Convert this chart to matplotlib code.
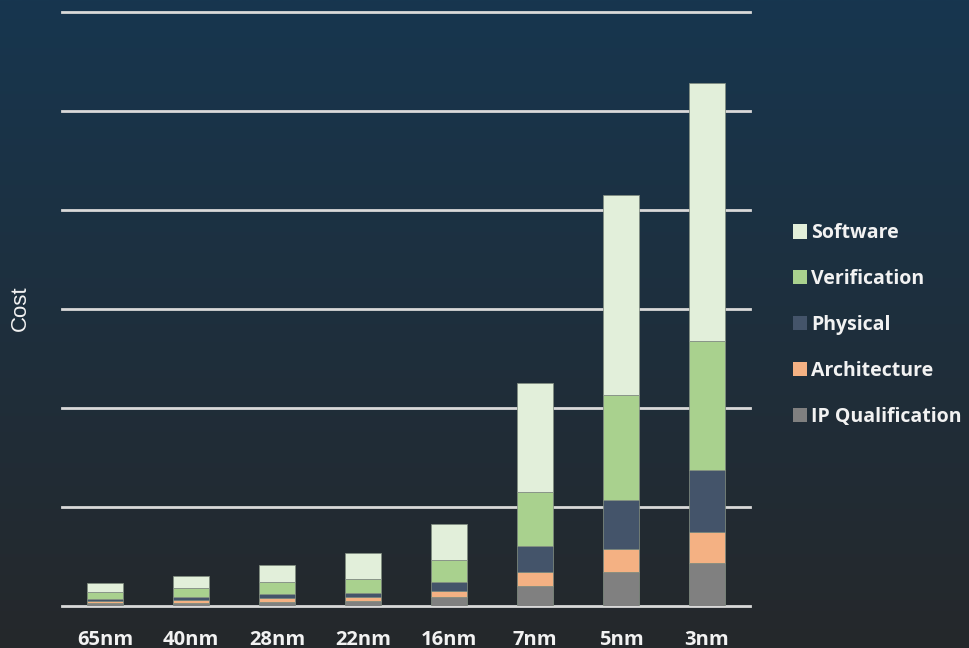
import numpy as np
import matplotlib.pyplot as plt
from matplotlib.patches import Patch

# data (one grid step = 100)
nodes = ["65nm", "40nm", "28nm", "22nm", "16nm", "7nm", "5nm", "3nm"]
ip_qual = [3.5, 3.5, 4.5, 5.5, 8.6, 20.5, 34.0, 43.4]
architecture = [1.7, 2.3, 3.3, 3.3, 6.4, 14.1, 23.8, 31.3]
physical = [2.0, 3.0, 4.0, 4.7, 9.1, 25.9, 49.1, 62.3]
verification = [7.4, 9.5, 12.8, 13.8, 22.6, 54.2, 105.7, 130.2]
software = [8.8, 12.1, 17.2, 26.2, 35.9, 110.6, 201.8, 261.0]

series = [
    ("IP Qualification", ip_qual, "#808080"),
    ("Architecture", architecture, "#F4B183"),
    ("Physical", physical, "#44546A"),
    ("Verification", verification, "#A9D18E"),
    ("Software", software, "#E2EFDA"),
]

fig = plt.figure(figsize=(9.69, 6.48), dpi=100)

# gradient background
bg = fig.add_axes([0, 0, 1, 1], zorder=0)
top = np.array([23, 54, 79]) / 255
bot = np.array([37, 40, 43]) / 255
t = np.linspace(0, 1, 256)[:, None]
grad = (top[None, :] * (1 - t) + bot[None, :] * t)[:, None, :]
bg.imshow(grad, aspect="auto", extent=[0, 1, 0, 1])
bg.axis("off")

ax = fig.add_axes([62 / 969, 1 - 606 / 648, 688 / 969, 594.5 / 648], zorder=1)
ax.patch.set_alpha(0)

x = np.arange(len(nodes))
bottom = np.zeros(len(nodes))
for name, vals, col in series:
    ax.bar(x, vals, 0.407, bottom=bottom, color=col, edgecolor=(0.5, 0.55, 0.5, 0.8),
           linewidth=0.7, zorder=3)
    bottom += np.array(vals)

ax.set_xlim(-0.5, 7.5)
ax.set_ylim(0, 600)
for yv in range(0, 700, 100):
    ax.axhline(yv, color="#D9D9D9", lw=2, zorder=1, clip_on=False)

for s in ax.spines.values():
    s.set_visible(False)
ax.set_yticks([])
ax.set_xticks(x)
ax.set_xticklabels(nodes, fontsize=14.5, fontweight="bold", color="#F2F2F2",
                   family="Open Sans")
ax.tick_params(axis="x", length=0, pad=17)

fig.text(20 / 969, 1 - 308 / 648, "Cost", rotation=90, color="#F2F2F2",
         fontsize=16, family="Liberation Sans", ha="center", va="center")

handles = [Patch(facecolor=c, label=n) for n, v, c in reversed(series)]
leg = fig.legend(handles=handles, loc="center left", bbox_to_anchor=(775 / 969, 1 - 325 / 648),
                 frameon=False, prop={"family": "Open Sans", "weight": "bold", "size": 14},
                 labelcolor="#F2F2F2", handlelength=0.75, handleheight=0.75,
                 handletextpad=0.2, labelspacing=1.33)

fig.savefig("out.png", dpi=100)
